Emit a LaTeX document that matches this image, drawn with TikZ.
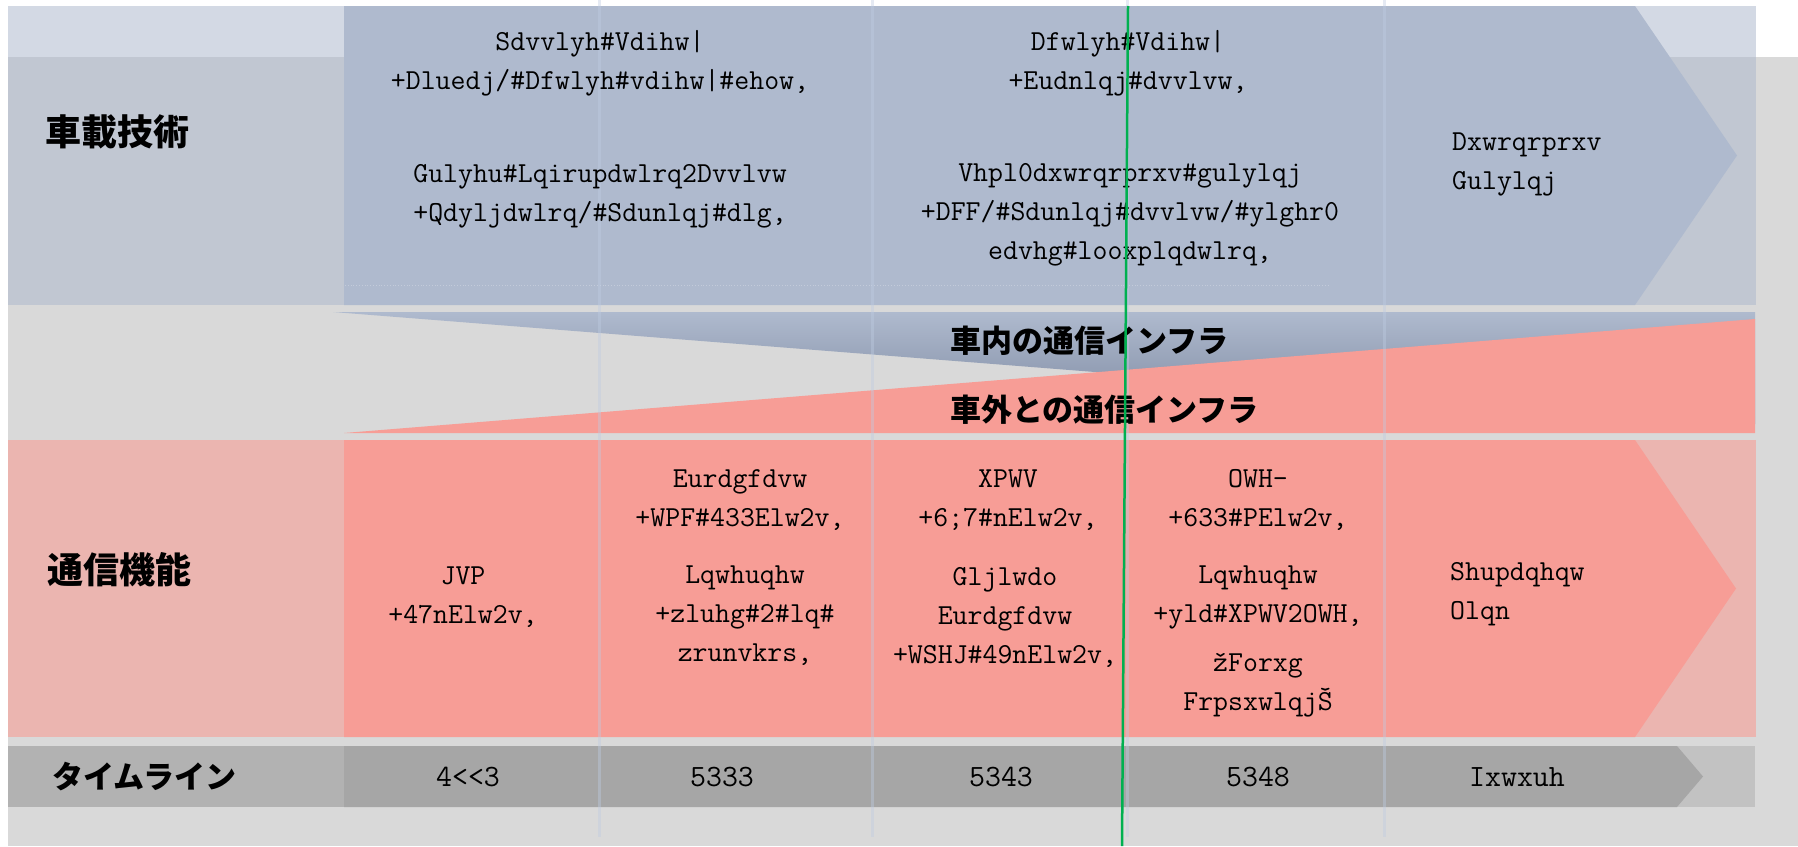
\documentclass[tikz,border=0pt]{standalone}
\usepackage{fontspec}
\newfontfamily\jp{Noto Sans CJK JP}
\definecolor{bgGrey}{RGB}{217,217,217}
\definecolor{blueA}{RGB}{175,186,206}
\definecolor{blueD}{RGB}{122,134,158}
\definecolor{pinkA}{RGB}{247,157,150}
\definecolor{tlGrey}{RGB}{166,166,166}
\definecolor{divBlue}{RGB}{190,204,226}
\definecolor{greenL}{RGB}{0,176,80}
\tikzset{
  mono/.style={font=\ttfamily\fontsize{29}{39}\selectfont, align=center, inner sep=0pt},
  monoL/.style={mono, align=left, anchor=west},
  rowlabel/.style={font=\jp\bfseries\fontsize{36}{40}\selectfont, anchor=west, inner sep=0pt},
  infra/.style={font=\jp\bfseries\fontsize{31}{36}\selectfont, anchor=west, inner sep=0pt},
  yearlbl/.style={font=\ttfamily\fontsize{31}{36}\selectfont, inner sep=0pt},
  divider/.style={draw=divBlue, line width=3pt, opacity=0.4},
}
\begin{document}
\begin{tikzpicture}[x=1pt,y=-1pt]
\useasboundingbox (0,0) rectangle (1798,846);
\fill[white] (0,0) rectangle (1798,846);
\fill[bgGrey] (8,57) rectangle (1798,846);
% row 1 : on-board technology
\fill[blueA, opacity=0.55] (8,6) rectangle (344,305);
\fill[blueA, opacity=0.55] (1635,6) rectangle (1756,305);
\fill[blueA] (344,6) -- (1635,6) -- (1737,155.5) -- (1635,305) -- (344,305) -- cycle;
\draw[white, opacity=0.25, dotted, line width=0.8pt] (345,285) -- (1328,285);
% row 2 : wedges
\shade[top color=blueA, bottom color=blueD] (333,312) -- (1755,312) -- (1755,424) -- cycle;
\fill[pinkA] (344,433) -- (1755,319) -- (1755,433) -- cycle;
% row 3 : communication
\fill[pinkA, opacity=0.6] (8,440) rectangle (344,737);
\fill[pinkA, opacity=0.6] (1635,440) rectangle (1756,737);
\fill[pinkA] (344,440) -- (1635,440) -- (1736,588.5) -- (1635,737) -- (344,737) -- cycle;
% row 4 : timeline
\fill[tlGrey, opacity=0.75] (8,746) rectangle (344,807);
\fill[tlGrey, opacity=0.45] (1677,746) rectangle (1755,807);
\fill[tlGrey] (344,746) -- (1677,746) -- (1703,776.5) -- (1677,807) -- (344,807) -- cycle;
% column dividers
\foreach \xx in {599,872,1127,1384} \draw[divider] (\xx,0) -- (\xx,837);
% row labels
\node[rowlabel] (lOnboard) at (45,132) {車載技術};
\node[rowlabel] (lComm) at (47,570) {通信機能};
\node[rowlabel, font=\jp\bfseries\fontsize{31}{36}\selectfont] (lTime) at (52,777) {タイムライン};
% infra labels
\node[infra] (inIn) at (950,341) {車内の通信インフラ};
\node[infra] (inOut) at (950,410) {車外との通信インフラ};
% row 1 texts
\node[mono] (r1a1) at (600,63) {Sdvvlyh\#Vdihw|\\+Dluedj/\#Dfwlyh\#vdihw|\#ehow,};
\node[mono] (r1a2) at (600,196) {Gulyhu\#Lqirupdwlrq2Dvvlvw\\+Qdyljdwlrq/\#Sdunlqj\#dlg,};
\node[mono] (r1b1) at (1128,63) {Dfwlyh\#Vdihw|\\+Eudnlqj\#dvvlvw,};
\node[mono] (r1b2) at (1130,215) {Vhpl0dxwrqrprxv\#gulylqj\\+DFF/\#Sdunlqj\#dvvlvw/\#ylghr0\\edvhg\#looxplqdwlrq,};
\node[monoL] (r1c) at (1452,164) {Dxwrqrprxv\\Gulylqj};
% row 3 texts
\node[mono] (r3a) at (463,597) {JVP\\+47nElw2v,};
\node[mono] (r3b1) at (740,500) {Eurdgfdvw\\+WPF\#433Elw2v,};
\node[mono] (r3b2) at (745,616) {Lqwhuqhw\\+zluhg\#2\#lq\#\\zrunvkrs,};
\node[mono] (r3c1) at (1008,500) {XPWV\\+6;7\#nElw2v,};
\node[mono] (r3c2) at (1005,617) {Gljlwdo\\Eurdgfdvw\\+WSHJ\#49nElw2v,};
\node[mono] (r3d1) at (1258,500) {OWH-\\+633\#PElw2v,};
\node[mono] (r3d2) at (1258,597) {Lqwhuqhw\\+yld\#XPWV2OWH,};
\node[mono] (r3d3) at (1258,685) {žForxg\\FrpsxwlqjŠ};
\node[monoL] (r3e) at (1450,594) {Shupdqhqw\\Olqn};
% timeline texts
\node[yearlbl] (y1) at (468,777) {4<<3};
\node[yearlbl] (y2) at (722,777) {5333};
\node[yearlbl] (y3) at (1001,777) {5343};
\node[yearlbl] (y4) at (1258,777) {5348};
\node[yearlbl] (y5) at (1517,777) {Ixwxuh};
% green marker line
\coordinate (gTop) at (1128,6);
\coordinate (gBot) at (1122,846);
\draw[greenL, line width=2.5pt] (gTop) -- (gBot);
\end{tikzpicture}
\end{document}
